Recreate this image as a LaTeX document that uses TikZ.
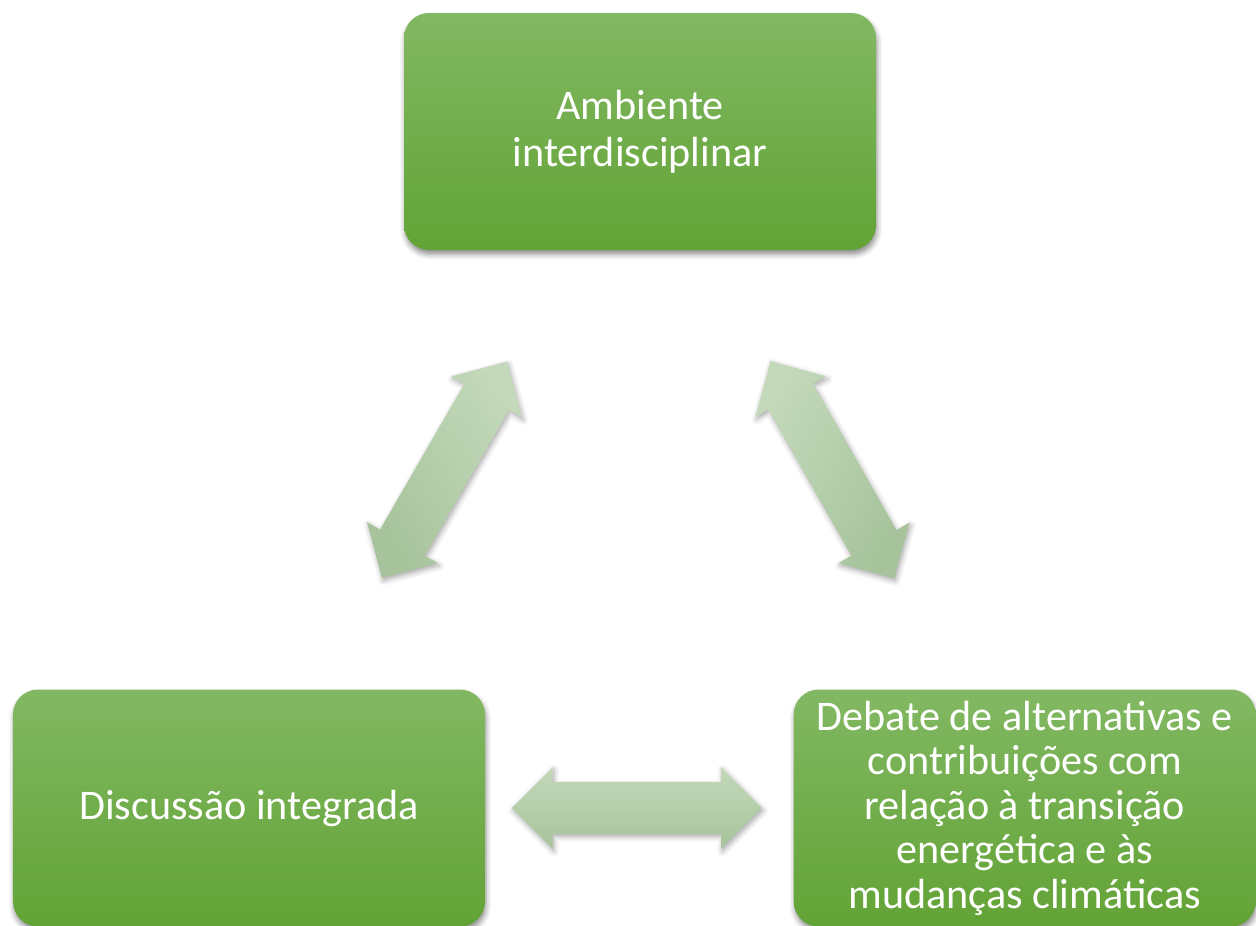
\documentclass[tikz,border=0pt]{standalone}
\usepackage{fontspec}
\setmainfont{Carlito}
\usetikzlibrary{positioning,shapes.arrows,shadows.blur}
\definecolor{boxtop}{RGB}{130,184,99}
\definecolor{boxbot}{RGB}{98,163,53}
\definecolor{linktop}{RGB}{195,217,186}
\definecolor{linkbot}{RGB}{166,195,155}

\begin{document}
\begin{tikzpicture}[
  topic/.style = {
    rectangle,
    rounded corners = 0.5cm,
    top color = boxtop,
    bottom color = boxbot,
    text = white,
    align = center,
    minimum width = 9.44cm,
    minimum height = 4.74cm,
    inner sep = 0pt,
    font = \fontsize{24}{26.7}\selectfont,
    blur shadow = {shadow xshift=0.6pt, shadow yshift=-2.5pt,
      shadow blur radius=3pt, shadow opacity=45},
  },
  link/.style = {
    double arrow,
    double arrow head extend = 0.3cm,
    minimum height = 5cm,
    inner xsep = 0pt,
    inner ysep = 0.51cm,
    top color = linktop,
    bottom color = linkbot,
    blur shadow = {shadow xshift=0.8pt, shadow yshift=-1.5pt,
      shadow blur radius=3pt, shadow opacity=35},
    sloped,
  },
]

  \useasboundingbox (0,0) rectangle (25.12,-18.5);

  \node[topic] (amb) at (12.8,-2.63) {Ambiente\\interdisciplinar};
  \node[topic] (disc) at (4.98,-16.16) {Discussão integrada};
  \node[topic, minimum width=9.24cm, font=\fontsize{24}{25.3}\selectfont] (deb) [right=6.16cm of disc]
    {Debate de alternativas e\\contribuições com\\relação à transição\\energética e às\\mudanças climáticas};

  \path (disc.center) -- node[link, shading angle=-60] {} (amb.center);
  \path (amb.center) -- node[link, shading angle=60] {} (deb.center);
  \path (disc.center) -- node[link] {} (deb.center);

\end{tikzpicture}
\end{document}
